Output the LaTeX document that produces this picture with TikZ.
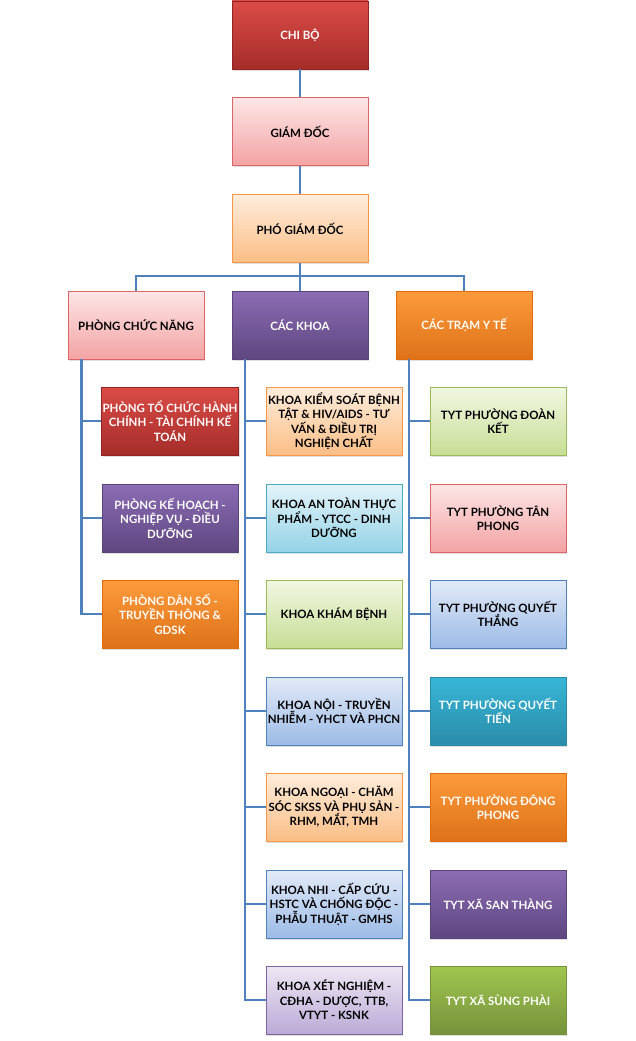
\documentclass[tikz,border=0pt]{standalone}
\usepackage{fontspec}
\setmainfont{Lato}
\usepackage{xcolor}
\usepackage{tikz}
\usetikzlibrary{shadows}
\def\boxw{102pt}
\def\boxh{51pt}
% couleurs
\definecolor{trait}{HTML}{4F81BD}
\definecolor{rougeH}{HTML}{DB4B46}\definecolor{rougeB}{HTML}{A52D2A}\definecolor{rougeT}{HTML}{8E2522}
\definecolor{roseH}{HTML}{FDE6E6}\definecolor{roseB}{HTML}{F4A3A4}\definecolor{roseT}{HTML}{DC6567}
\definecolor{pecheH}{HTML}{FEEDDC}\definecolor{pecheB}{HTML}{FBBE86}\definecolor{pecheT}{HTML}{F79646}
\definecolor{violetH}{HTML}{8C6CB4}\definecolor{violetB}{HTML}{5E4780}\definecolor{violetT}{HTML}{5A4479}
\definecolor{orangeH}{HTML}{FC9B3C}\definecolor{orangeB}{HTML}{DE7218}\definecolor{orangeT}{HTML}{E46C0A}
\definecolor{cielH}{HTML}{E3F3F9}\definecolor{cielB}{HTML}{94D3E7}\definecolor{cielT}{HTML}{4BACC6}
\definecolor{vertH}{HTML}{F1F7E2}\definecolor{vertB}{HTML}{C8DE96}\definecolor{vertT}{HTML}{9BBB59}
\definecolor{bleuH}{HTML}{E2EAF7}\definecolor{bleuB}{HTML}{9CBBE7}\definecolor{bleuT}{HTML}{4F81BD}
\definecolor{lilasH}{HTML}{EDE7F3}\definecolor{lilasB}{HTML}{BBAAD7}\definecolor{lilasT}{HTML}{8064A2}
\definecolor{turqH}{HTML}{38B6D7}\definecolor{turqB}{HTML}{2A8CA9}\definecolor{turqT}{HTML}{2A8CA9}
\definecolor{herbeH}{HTML}{A0C650}\definecolor{herbeB}{HTML}{76933B}\definecolor{herbeT}{HTML}{76933B}

\begin{document}
\begin{tikzpicture}[x=0.75pt, y=-0.75pt,
    bloc/.style={rectangle, minimum width=\boxw, minimum height=\boxh, inner sep=1pt, align=center,
        font=\bfseries\fontsize{8.6}{10.9}\selectfont, line width=0.6pt,
        drop shadow={opacity=0.25, shadow xshift=1pt, shadow yshift=-1.2pt}},
    rouge/.style={bloc, draw=rougeT, top color=rougeH, bottom color=rougeB, text=white},
    rose/.style={bloc, draw=roseT, top color=roseH, bottom color=roseB},
    peche/.style={bloc, draw=pecheT, top color=pecheH, bottom color=pecheB},
    violet/.style={bloc, draw=violetT, top color=violetH, bottom color=violetB, text=white},
    orange/.style={bloc, draw=orangeT, top color=orangeH, bottom color=orangeB, text=white},
    ciel/.style={bloc, draw=cielT, top color=cielH, bottom color=cielB},
    vert/.style={bloc, draw=vertT, top color=vertH, bottom color=vertB},
    bleu/.style={bloc, draw=bleuT, top color=bleuH, bottom color=bleuB},
    lilas/.style={bloc, draw=lilasT, top color=lilasH, bottom color=lilasB},
    turq/.style={bloc, draw=turqT, top color=turqH, bottom color=turqB, text=white},
    herbe/.style={bloc, draw=herbeT, top color=herbeH, bottom color=herbeB, text=white},
    lien/.style={draw=trait, line width=1.9pt}]
\useasboundingbox (0,0) rectangle (635,1041);
%\draw[step=50, black!20] (0,0) grid (635,1041);
    % direction
    \node[rouge] (chibo) at (300,35) {CHI BỘ};
    \node[rose] (giamdoc) at (300,131.5) {GIÁM ĐỐC};
    \node[peche] (phogd) at (300,228.5) {PHÓ GIÁM ĐỐC};
    % niveau 2
    \node[rose] (phong) at (136,325) {PHÒNG CHỨC NĂNG};
    \node[violet] (khoa) at (300,325) {CÁC KHOA};
    \node[orange] (tram) at (464,325) {CÁC TRẠM Y TẾ};
    % phong
    \node[rouge] (p1) at (170,421) {PHÒNG TỔ CHỨC HÀNH\\CHÍNH - TÀI CHÍNH KẾ\\TOÁN};
    \node[violet] (p2) at (170,518) {PHÒNG KẾ HOẠCH -\\NGHIỆP VỤ - ĐIỀU\\DƯỠNG};
    \node[orange] (p3) at (170,614) {PHÒNG DÂN SỐ -\\TRUYỀN THÔNG \&\\GDSK};
    % khoa
    \node[peche] (k1) at (334,421) {KHOA KIỂM SOÁT BỆNH\\TẬT \& HIV/AIDS - TƯ\\VẤN \& ĐIỀU TRỊ\\NGHIỆN CHẤT};
    \node[ciel] (k2) at (334,518) {KHOA AN TOÀN THỰC\\PHẨM - YTCC - DINH\\DƯỠNG};
    \node[vert] (k3) at (334,614) {KHOA KHÁM BỆNH};
    \node[bleu] (k4) at (334,711) {KHOA NỘI - TRUYỀN\\NHIỄM - YHCT VÀ PHCN};
    \node[peche] (k5) at (334,807) {KHOA NGOẠI - CHĂM\\SÓC SKSS VÀ PHỤ SẢN -\\RHM, MẮT, TMH};
    \node[bleu] (k6) at (334,904) {KHOA NHI - CẤP CỨU -\\HSTC VÀ CHỐNG ĐỘC -\\PHẪU THUẬT - GMHS};
    \node[lilas] (k7) at (334,1000) {KHOA XÉT NGHIỆM -\\CĐHA - DƯỢC, TTB,\\VTYT - KSNK};
    % tram
    \node[vert] (t1) at (498,421) {TYT PHƯỜNG ĐOÀN\\KẾT};
    \node[rose] (t2) at (498,518) {TYT PHƯỜNG TÂN\\PHONG};
    \node[bleu] (t3) at (498,614) {TYT PHƯỜNG QUYẾT\\THẮNG};
    \node[turq] (t4) at (498,711) {TYT PHƯỜNG QUYẾT\\TIẾN};
    \node[orange] (t5) at (498,807) {TYT PHƯỜNG ĐÔNG\\PHONG};
    \node[violet] (t6) at (498,904) {TYT XÃ SAN THÀNG};
    \node[herbe] (t7) at (498,1000) {TYT XÃ SÙNG PHÀI};
    % liens
    \coordinate (bus) at (300,276);
    \coordinate (tp) at ([xshift=10.5pt]phong.south west);
    \coordinate (tk) at ([xshift=10pt]khoa.south west);
    \coordinate (tt) at ([xshift=10pt]tram.south west);
    \draw[lien] (chibo) -- (giamdoc);
    \draw[lien] (giamdoc) -- (phogd);
    \draw[lien] (phogd) -- (bus);
    \draw[lien] (phong.north) |- (bus) -| (tram.north);
    \draw[lien] (bus) -- (khoa.north);
    \draw[lien] (tp) |- (p1.west);
    \draw[lien] (tp) |- (p2.west);
    \draw[lien] (tp) |- (p3.west);
    \draw[lien] (tk) |- (k1.west);
    \draw[lien] (tk) |- (k2.west);
    \draw[lien] (tk) |- (k3.west);
    \draw[lien] (tk) |- (k4.west);
    \draw[lien] (tk) |- (k5.west);
    \draw[lien] (tk) |- (k6.west);
    \draw[lien] (tk) |- (k7.west);
    \draw[lien] (tt) |- (t1.west);
    \draw[lien] (tt) |- (t2.west);
    \draw[lien] (tt) |- (t3.west);
    \draw[lien] (tt) |- (t4.west);
    \draw[lien] (tt) |- (t5.west);
    \draw[lien] (tt) |- (t6.west);
    \draw[lien] (tt) |- (t7.west);
\end{tikzpicture}
\end{document}
